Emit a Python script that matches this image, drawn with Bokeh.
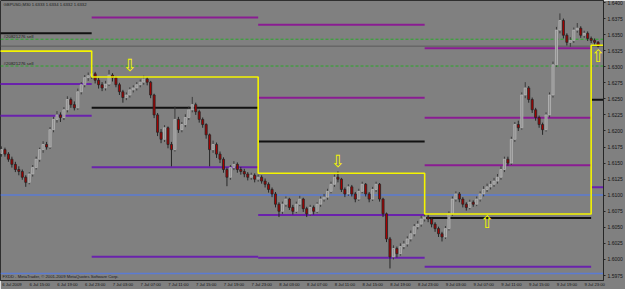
from bokeh.plotting import figure
from bokeh.models import Range1d, FixedTicker, PrintfTickFormatter, Label, ColumnDataSource
from bokeh.core.properties import value
from bokeh.embed import file_html
from bokeh.resources import INLINE

# ---------------- data (GBPUSD, M30, prices as pips above 1.6000) ----------------
BASE = 1.6000
open_pips = [165,171,164,156,148,140,137,128,120,133,
             143,156,171,179,175,202,218,225,221,233,
             249,241,236,261,272,283,286,289,279,272,
             267,273,287,283,272,261,252,256,264,267,
             272,276,281,276,256,225,198,187,205,179,
             171,218,202,210,221,233,241,230,218,210,
             194,171,179,164,156,140,128,143,148,140,
             137,133,128,131,125,128,122,117,109,102,
             86,75,86,94,81,75,86,94,79,71,
             81,75,86,94,97,106,117,128,125,109,
             102,113,102,94,106,117,102,94,109,117,
             94,71,32,4,17,9,20,24,32,40,
             51,55,63,66,63,55,48,40,35,48,
             71,94,102,94,86,81,89,86,94,102,
             109,113,117,122,128,140,156,150,187,210,
             205,256,267,249,233,221,210,202,225,256,
             303,357,372,349,338,341,357,360,349,352,
             344,341,338]
high_pips = [176,174,167,160,152,145,140,131,136,147,
             160,174,184,183,206,222,231,229,237,254,
             252,246,266,276,287,291,293,292,283,276,
             278,295,290,285,275,264,260,268,271,276,
             280,286,284,278,258,228,203,209,207,183,
             238,222,214,226,238,253,244,233,221,212,
             196,185,182,168,159,143,147,153,151,144,
             141,136,135,134,132,131,126,120,112,105,
             89,90,98,96,85,90,99,96,82,85,
             84,89,98,102,110,121,132,137,127,112,
             117,116,105,110,121,119,105,113,121,119,
             96,73,35,22,20,25,29,36,45,55,
             60,68,71,70,65,58,51,43,52,75,
             98,106,105,97,89,93,92,98,106,114,
             118,122,127,133,145,160,160,191,214,216,
             260,276,270,252,236,224,213,229,260,308,
             362,383,375,352,346,361,368,363,356,355,
             347,344,340]
low_pips = [160,160,152,143,136,131,124,113,117,129,
            140,152,166,171,172,198,213,214,217,229,
            236,232,233,257,268,278,281,274,266,262,
            263,270,277,268,256,244,248,252,260,263,
            268,272,271,251,220,192,181,183,173,145,
            168,197,198,206,217,229,225,213,205,188,
            145,166,158,150,135,114,124,139,135,132,
            128,123,124,120,121,118,112,104,97,81,
            66,71,82,77,70,72,83,74,66,68,
            70,72,82,90,93,103,113,120,105,97,
            99,98,89,91,103,98,89,91,105,90,
            66,27,-14,0,3,6,16,20,28,36,
            47,51,59,58,50,43,35,28,32,45,
            68,90,89,81,76,78,82,83,90,98,
            105,109,113,118,124,136,146,147,183,200,
            202,251,244,228,216,205,194,199,221,252,
            300,352,344,333,331,337,353,345,345,340,
            337,334,330]
close_pips = [171,164,156,148,140,137,128,120,133,143,
              156,171,179,175,202,218,225,221,233,249,
              241,236,261,272,283,286,289,279,272,267,
              273,287,283,272,261,252,256,264,267,272,
              276,281,276,256,225,198,187,205,179,171,
              218,202,210,221,233,241,230,218,210,194,
              171,179,164,156,140,128,143,148,140,137,
              133,128,131,125,128,122,117,109,102,86,
              75,86,94,81,75,86,94,79,71,81,
              75,86,94,97,106,117,128,125,109,102,
              113,102,94,106,117,102,94,109,117,94,
              71,32,4,17,9,20,24,32,40,51,
              55,63,66,63,55,48,40,35,48,71,
              94,102,94,86,81,89,86,94,102,109,
              113,117,122,128,140,156,150,187,210,205,
              256,267,249,233,221,210,202,225,256,303,
              357,372,349,338,341,357,360,349,352,344,
              341,338,332]

time_labels = ["6 Jul 2009", "6 Jul 15:00", "6 Jul 19:00", "6 Jul 23:00",
               "7 Jul 03:00", "7 Jul 07:00", "7 Jul 11:00", "7 Jul 15:00",
               "7 Jul 19:00", "7 Jul 23:00", "8 Jul 03:00", "8 Jul 07:00",
               "8 Jul 11:00", "8 Jul 15:00", "8 Jul 19:00", "8 Jul 23:00",
               "9 Jul 03:00", "9 Jul 07:00", "9 Jul 11:00", "9 Jul 15:00",
               "9 Jul 19:00", "9 Jul 23:00"]
time_label_bars = [0, 8, 16, 24, 32, 40, 48, 56, 64, 72, 80, 88,
                   96, 104, 112, 120, 128, 136, 144, 152, 160, 168]
price_ticks = [1.5975, 1.6000, 1.6025, 1.6050, 1.6075, 1.6100, 1.6125, 1.6150,
               1.6175, 1.6200, 1.6225, 1.6250, 1.6275, 1.6300, 1.6325, 1.6350,
               1.6375, 1.6400]

# daily pivot sets
day_start = [-1, 26, 74, 122, 170]
day_end = [26, 74, 122, 170, 174]
pivot_level = [1.63243, 1.62841, 1.61342, 1.60708, 1.63335]
mid_level = [1.63521, 1.62362, 1.61836, 1.60646, 1.62485]
res_day = [1, 2, 2, 3, 3, 3]
res_level = [1.63768, 1.63652, 1.62516, 1.63289, 1.62207, 1.61465]
sup_day = [0, 0, 1, 1, 2, 2, 3, 4]
sup_level = [1.62733, 1.62238, 1.61434, 1.60043, 1.60692, 1.60028, 1.59885, 1.61125]
blue_levels = [1.61002, 1.59781]
order_levels = [1.63428, 1.63011]
order_labels = ["#20821276 sell", "#20821276 sell"]
bid_price = 1.6332
arrow_bar = [37, 97, 140, 172]
arrow_price = [1.63026, 1.61527, 1.60584, 1.63165]
arrow_glyph = ["\u21e9", "\u21e9", "\u21e7", "\u21e7"]
title_text = "GBPUSD,M30  1.6333 1.6334 1.6332 1.6332"
copyright_text = "FXDD - MetaTrader, \u00a9 2001-2009 MetaQuotes Software Corp."

# ---------------- figure ----------------
BG = "#808080"
FONT = "Liberation Sans"
n = len(close_pips)
x_lo, x_hi = -0.287, 173.56
y_lo, y_hi = 1.596723, 1.640309

p = figure(width=625, height=289, x_range=Range1d(x_lo, x_hi), y_range=Range1d(y_lo, y_hi),
           y_axis_location="right", output_backend="svg", toolbar_location=None,
           min_border_left=0, min_border_right=20, min_border_top=0, min_border_bottom=7,
           background_fill_color=BG, border_fill_color=BG, outline_line_color="#2e2e2e")
p.grid.visible = False

# axes
p.yaxis.ticker = FixedTicker(ticks=price_ticks)
p.yaxis.formatter = PrintfTickFormatter(format="%.4f")
p.yaxis.major_label_text_font_size = "5px"
p.yaxis.major_label_text_font = FONT
p.yaxis.major_label_text_color = "#141414"
p.yaxis.major_label_standoff = 2
p.yaxis.major_tick_out = 2
p.yaxis.major_tick_in = 0
p.yaxis.minor_tick_out = 0
p.yaxis.minor_tick_in = 0
p.yaxis.axis_line_color = "#262626"
p.yaxis.major_tick_line_color = "#262626"

label_centers = [b + 3 for b in time_label_bars]
p.xaxis.ticker = FixedTicker(ticks=label_centers)
p.xaxis.major_label_overrides = {c: t for c, t in zip(label_centers, time_labels)}
p.xaxis.major_label_text_font_size = "4.2px"
p.xaxis.major_label_text_font = FONT
p.xaxis.major_label_text_color = "#141414"
p.xaxis.major_label_standoff = 1
p.xaxis.major_tick_out = 0
p.xaxis.major_tick_in = 0
p.xaxis.minor_tick_out = 0
p.xaxis.minor_tick_in = 0
p.xaxis.axis_line_color = "#262626"

# horizontal full-width lines
for lvl in blue_levels:
    p.line([x_lo, x_hi], [lvl, lvl], line_color="#5b7bd2", line_width=1.5)
for lvl in order_levels:
    p.line([x_lo, x_hi], [lvl, lvl], line_color="#2aa82a", line_width=1, line_dash="3 2")
p.line([x_lo, x_hi], [bid_price, bid_price], line_color="#5a5a5a", line_width=1)

# pivot segments
p.segment(x0=[day_start[d] for d in res_day], x1=[day_end[d] for d in res_day],
          y0=res_level, y1=res_level, line_color="#8a1c92", line_width=2)
p.segment(x0=[day_start[d] for d in sup_day], x1=[day_end[d] for d in sup_day],
          y0=sup_level, y1=sup_level, line_color="#6a22ac", line_width=2)
p.segment(x0=day_start, x1=day_end, y0=mid_level, y1=mid_level,
          line_color="#111111", line_width=2)

# candles
xs = list(range(n))
o = [BASE + v / 10000 for v in open_pips]
h = [BASE + v / 10000 for v in high_pips]
l = [BASE + v / 10000 for v in low_pips]
c = [BASE + v / 10000 for v in close_pips]
bull = [c[i] >= o[i] for i in range(n)]
src = ColumnDataSource(dict(
    x=xs, high=h, low=l,
    top=[max(o[i], c[i]) for i in range(n)],
    bottom=[min(o[i], c[i]) for i in range(n)],
    wick=["#3c3c3c" if b else "#262626" for b in bull],
    fill=["#909090" if b else "#a80000" for b in bull],
    edge=["#b8b8b8" if b else "#262626" for b in bull],
))
p.segment(x0="x", x1="x", y0="low", y1="high", line_color="wick", line_width=1, source=src)
p.vbar(x="x", width=0.6, top="top", bottom="bottom", fill_color="fill",
       line_color="edge", line_width=0.8, source=src)

# yellow daily pivot step line
px, py = [], []
for s, e, lv in zip(day_start, day_end, pivot_level):
    px += [s, e]
    py += [lv, lv]
p.line(px, py, line_color="#f4f400", line_width=1.6)

# arrows
p.text(x=arrow_bar, y=arrow_price, text=arrow_glyph, text_color="#f4f400",
       text_font=value("DejaVu Sans"), text_font_size="17px",
       text_align="center", text_baseline="middle")

# texts inside the chart
px_per_price = 282 / (y_hi - y_lo)
p.text(x=[0.6], y=[y_hi - 4 / px_per_price], text=[title_text], text_color="#1a1a1a",
       text_font=value(FONT), text_font_size="4.2px", text_align="left", text_baseline="middle")
p.text(x=[0.6, 0.6], y=[lv + 3 / px_per_price for lv in order_levels], text=order_labels,
       text_color="#1a1a1a", text_font=value(FONT), text_font_size="4.4px",
       text_align="left", text_baseline="middle")
p.text(x=[0.3], y=[y_lo + 4.5 / px_per_price], text=[copyright_text], text_color="#1a1a1a",
       text_font=value(FONT), text_font_size="4.2px", text_align="left", text_baseline="middle")

# current price box on the price scale
p.add_layout(Label(x=x_hi + 0.15, y=bid_price, text="1.6332", text_color="white",
                   text_font=FONT, text_font_size="5px", text_baseline="middle",
                   text_align="left", background_fill_color="black"))

open("out.html", "w").write(file_html(p, INLINE))
